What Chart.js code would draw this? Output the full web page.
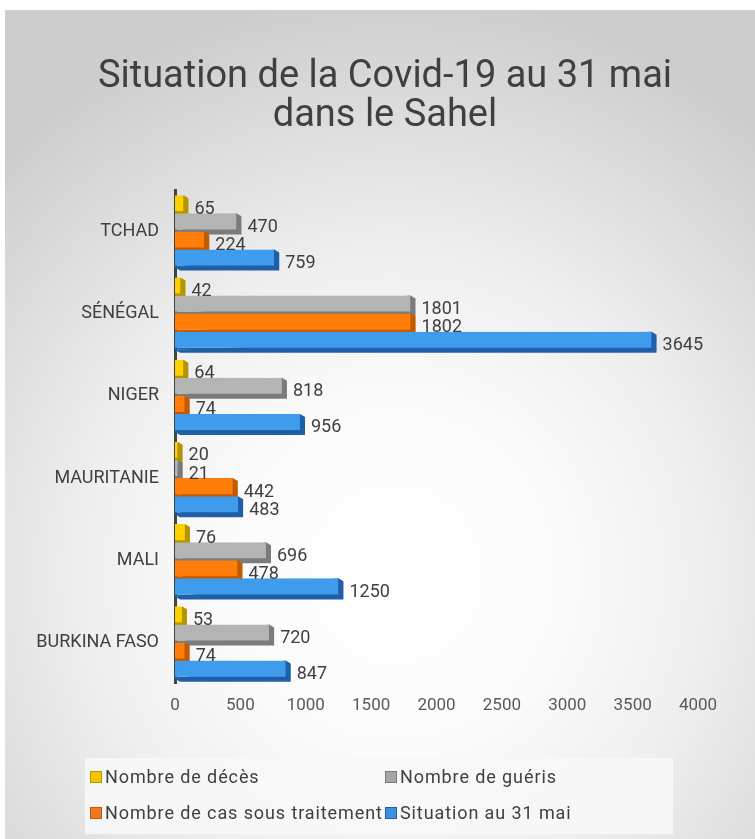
<!DOCTYPE html>
<html>
<head>
<meta charset="utf-8">
<script src="https://cdn.jsdelivr.net/npm/chart.js@4.4.1/dist/chart.umd.min.js"></script>
<style>
  html, body { margin: 0; padding: 0; background: #ffffff; }
  #wrap { position: relative; width: 755px; height: 839px; overflow: hidden; }
  #fond {
    position: absolute; left: 5px; top: 10px; width: 750px; height: 829px;
    background: radial-gradient(ellipse 75% 70% at 52% 68%, #ffffff 0%, #fbfbfb 30%, #efefef 55%, #dcdcdc 80%, #cdcdcd 100%);
  }
  #c { position: absolute; left: 0; top: 0; }
  #legende {
    position: absolute; left: 85px; top: 758px; width: 588px; height: 76px;
    background: rgba(247, 247, 247, 0.92);
    font-family: Roboto, sans-serif; font-size: 18px; letter-spacing: 0.9px; color: #404040;
  }
  .item { position: absolute; display: flex; align-items: center; white-space: nowrap; }
  .item span.box { width: 12px; height: 12px; margin-right: 3px; border: 1px solid; box-sizing: border-box; }
</style>
</head>
<body>
<div id="wrap">
  <div id="fond"></div>
  <canvas id="c" width="755" height="839"></canvas>
  <div id="legende"></div>
</div>
<script>
// données
const pays = ["TCHAD", "SÉNÉGAL", "NIGER", "MAURITANIE", "MALI", "BURKINA FASO"];
const deces = [65, 42, 64, 20, 76, 53];
const gueris = [470, 1801, 818, 21, 696, 720];
const traitement = [224, 1802, 74, 442, 478, 74];
const situation = [759, 3645, 956, 483, 1250, 847];

const nomsSeries = ["Nombre de décès", "Nombre de guéris", "Nombre de cas sous traitement", "Situation au 31 mai"];
const couleurs = ["#ffd000", "#b4b4b4", "#ff7d08", "#3f9bec"];
const cotes = ["#b39500", "#7b7b7b", "#c45a00", "#1f5fa8"];
const legendeBox = ["#f5c400", "#a6a6a6", "#f07a24", "#3d8fe0"];

const axeMax = 4000;
const pas = 500;

// petit effet 3D : face droite et dessous plus sombres
const relief = {
  id: "relief",
  beforeDatasetsDraw(chart) {
    const ctx = chart.ctx;
    chart.data.datasets.forEach(function(ds, i) {
      const meta = chart.getDatasetMeta(i);
      meta.data.forEach(function(bar) {
        const top = bar.y - bar.height / 2;
        const bottom = bar.y + bar.height / 2;
        ctx.save();
        ctx.fillStyle = cotes[i];
        ctx.beginPath();
        ctx.moveTo(bar.x, top);
        ctx.lineTo(bar.x + 5, top + 3);
        ctx.lineTo(bar.x + 5, bottom + 3);
        ctx.lineTo(bar.base + 5, bottom + 3);
        ctx.lineTo(bar.base, bottom);
        ctx.closePath();
        ctx.fill();
        ctx.restore();
      });
    });
  }
};

// étiquettes de valeurs au bout des barres
const etiquettes = {
  id: "etiquettes",
  afterDatasetsDraw(chart) {
    const ctx = chart.ctx;
    ctx.save();
    ctx.font = "18px Roboto";
    ctx.fillStyle = "#404040";
    ctx.textAlign = "left";
    ctx.textBaseline = "middle";
    chart.data.datasets.forEach(function(ds, i) {
      chart.getDatasetMeta(i).data.forEach(function(bar, j) {
        ctx.fillText(String(ds.data[j]), bar.x + 11, bar.y + 5);
      });
    });
    ctx.restore();
  }
};

const series = [deces, gueris, traitement, situation];

const chart = new Chart(document.getElementById("c"), {
  type: "bar",
  data: {
    labels: pays,
    datasets: series.map(function(d, i) {
      return {
        label: nomsSeries[i],
        data: d,
        xAxisID: "x",
        yAxisID: "y",
        backgroundColor: couleurs[i],
        borderColor: cotes[i],
        borderWidth: { top: 0, right: 0, bottom: 2, left: 0 },
        borderSkipped: false,
        categoryPercentage: 0.88,
        barPercentage: 1.0
      };
    })
  },
  options: {
    indexAxis: "y",
    responsive: false,
    animation: false,
    devicePixelRatio: 1,
    layout: { padding: { left: 15, right: 0, top: 0, bottom: 111 } },
    plugins: {
      legend: { display: false },
      tooltip: { enabled: false },
      title: {
        display: true,
        text: ["Situation de la Covid-19 au 31 mai", "dans le Sahel"],
        color: "#404040",
        font: { family: "Roboto", size: 38, weight: "normal", lineHeight: 1.03 },
        padding: { top: 58, bottom: 54 }
      }
    },
    scales: {
      y: {
        grid: { display: false, drawTicks: false },
        border: { display: true, color: "#3f4540", width: 3 },
        ticks: { color: "#404040", font: { family: "Roboto", size: 18 }, padding: 16 },
        afterFit: function(scale) { scale.width = 160; }
      },
      // réserve la marge de droite sans décaler le titre
      yDroite: {
        type: "linear",
        position: "right",
        grid: { display: false, drawTicks: false },
        border: { display: false },
        ticks: { display: false },
        afterFit: function(scale) { scale.width = 57; }
      },
      x: {
        min: 0,
        max: axeMax,
        grid: { display: false, drawTicks: false },
        border: { display: false },
        ticks: {
          stepSize: pas, color: "#595959", font: { family: "Roboto", size: 17 }, padding: 12,
          callback: function(v) { return String(v); }
        }
      },
      // quadrillage du fond (mur arrière décalé)
      xFond: {
        type: "linear",
        position: "bottom",
        min: -120,
        max: 4088,
        grid: {
          drawTicks: false,
          color: function(c) {
            const v = c.tick ? c.tick.value : 0;
            return (v >= pas && v <= axeMax && v % pas === 0) ? "#d9d9d9" : "rgba(0,0,0,0)";
          }
        },
        border: { display: false },
        ticks: { display: false, stepSize: pas }
      }
    }
  },
  plugins: [relief, etiquettes]
});

// légende en deux colonnes
function buildLegend(chart) {
  const box = document.getElementById("legende");
  const pos = [[5, 19], [300, 19], [5, 55], [300, 55]];
  chart.data.datasets.forEach(function(ds, i) {
    const it = document.createElement("div");
    it.className = "item";
    it.style.left = pos[i][0] + "px";
    it.style.top = (pos[i][1] - 11) + "px";
    const sq = document.createElement("span");
    sq.className = "box";
    sq.style.background = legendeBox[i];
    sq.style.borderColor = cotes[i];
    const t = document.createElement("span");
    t.textContent = ds.label;
    it.appendChild(sq);
    it.appendChild(t);
    box.appendChild(it);
  });
}
buildLegend(chart);
</script>
</body>
</html>
